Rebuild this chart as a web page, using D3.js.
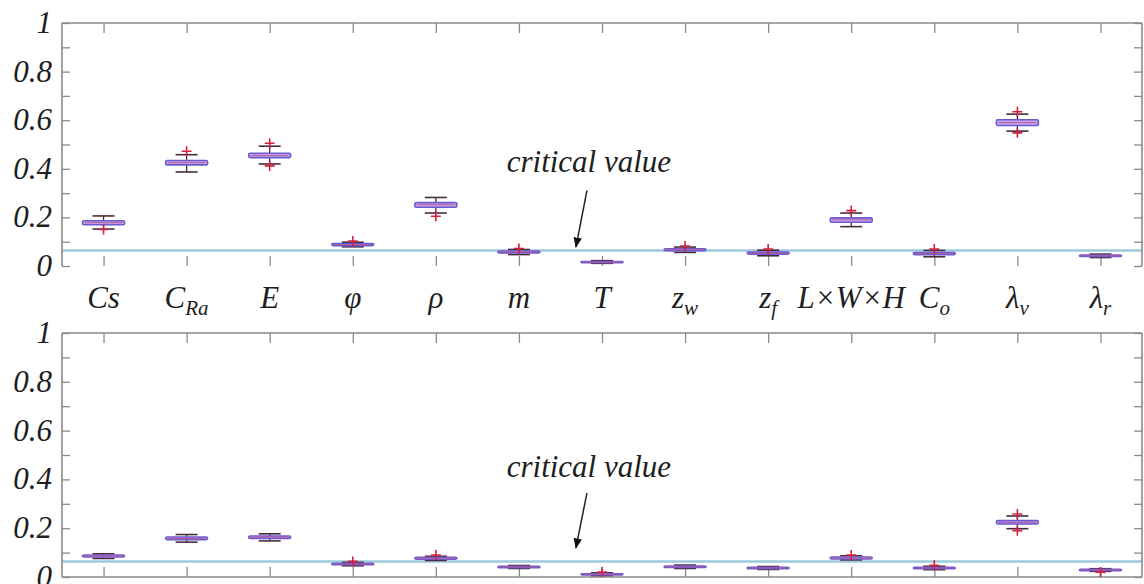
<!DOCTYPE html>
<html>
<head>
<meta charset="utf-8">
<script src="https://cdn.jsdelivr.net/npm/d3@7"></script>
<style>body{margin:0;background:#fff}</style>
</head>
<body>
<div id="chart"></div>
<script>
// categories (main glyph + subscript)
const categories = ['Cs', 'CRa', 'E', 'phi', 'rho', 'm', 'T', 'zw', 'zf', 'LWH', 'Co', 'lambdaV', 'lambdaR']
const labelMain = ['Cs', 'C', 'E', 'φ', 'ρ', 'm', 'T', 'z', 'z', 'L×W×H', 'C', 'λ', 'λ']
const labelSub = ['', 'Ra', '', '', '', '', '', 'w', 'f', '', 'o', 'v', 'r']

const yTicks = [0, 0.1, 0.2, 0.3, 0.4, 0.5, 0.6, 0.7, 0.8, 0.9, 1]
const yTickLabels = ['0', '', '0.2', '', '0.4', '', '0.6', '', '0.8', '', '1']

const criticalValue = 0.064

// top panel box statistics
const topLow = [0.152, 0.387, 0.420, 0.079, 0.218, 0.047, 0.011, 0.056, 0.042, 0.162, 0.038, 0.555, 0.035]
const topQ1 = [0.170, 0.416, 0.446, 0.084, 0.242, 0.054, 0.014, 0.063, 0.049, 0.180, 0.047, 0.578, 0.039]
const topMedian = [0.178, 0.425, 0.455, 0.088, 0.252, 0.058, 0.016, 0.067, 0.053, 0.190, 0.051, 0.590, 0.042]
const topQ3 = [0.186, 0.434, 0.464, 0.092, 0.261, 0.062, 0.018, 0.071, 0.057, 0.198, 0.055, 0.602, 0.045]
const topHigh = [0.206, 0.458, 0.493, 0.098, 0.282, 0.068, 0.022, 0.078, 0.065, 0.218, 0.064, 0.625, 0.049]
const topOutliers = [[0.150], [0.472], [0.505, 0.412], [0.103], [0.205], [0.072], [], [0.082], [0.070], [0.228], [0.070], [0.635, 0.548], []]

// bottom panel box statistics
const botLow = [0.076, 0.143, 0.148, 0.046, 0.068, 0.035, 0.006, 0.035, 0.031, 0.070, 0.030, 0.198, 0.023]
const botQ1 = [0.082, 0.153, 0.158, 0.050, 0.073, 0.038, 0.009, 0.039, 0.034, 0.074, 0.034, 0.217, 0.026]
const botMedian = [0.086, 0.158, 0.163, 0.053, 0.077, 0.041, 0.011, 0.042, 0.037, 0.078, 0.037, 0.224, 0.029]
const botQ3 = [0.090, 0.164, 0.168, 0.056, 0.081, 0.044, 0.013, 0.045, 0.040, 0.082, 0.040, 0.231, 0.032]
const botHigh = [0.095, 0.174, 0.177, 0.060, 0.085, 0.047, 0.017, 0.049, 0.043, 0.087, 0.044, 0.250, 0.034]
const botOutliers = [[], [], [], [0.064], [0.090], [], [0.020], [], [], [0.090], [0.048], [0.258, 0.190], [0.020]]

let width = 1144, height = 584
let left = 62, right = 1142

const fontFamily = 'Liberation Serif'

let svg = d3.select('#chart')
  .append('svg')
  .attr('width', width)
  .attr('height', height)

svg.append('rect').attr('width', width).attr('height', height).attr('fill', '#fff')

let x = d3.scalePoint()
  .domain(categories)
  .range([left, right])
  .padding(0.5)

const axisColor = '#8a8a8a'

function addText (parent, size) {
  return parent.append('text')
    .attr('font-family', fontFamily)
    .attr('font-style', 'italic')
    .attr('font-size', size)
    .attr('fill', '#1e1e1e')
}

function buildRows (low, q1, med, q3, high, outl) {
  return categories.map((c, i) => ({
    key: c, low: low[i], q1: q1[i], med: med[i], q3: q3[i], high: high[i], out: outl[i]
  }))
}

function drawPanel (top, bottom, rows, opts) {
  let y = d3.scaleLinear().domain([0, 1]).range([bottom, top])
  let g = svg.append('g')

  // critical value line
  g.append('line')
    .attr('x1', left).attr('x2', right)
    .attr('y1', y(criticalValue)).attr('y2', y(criticalValue))
    .attr('stroke', '#9ccadb')
    .attr('stroke-width', 2.5)

  // frame
  let frame = g.append('g')
    .attr('stroke', axisColor)
    .attr('stroke-width', 1.6)
    .attr('fill', 'none')
  frame.append('line').attr('x1', left).attr('x2', right).attr('y1', top).attr('y2', top)
  frame.append('line').attr('x1', left).attr('x2', left).attr('y1', top).attr('y2', bottom)
  frame.append('line').attr('x1', right).attr('x2', right).attr('y1', top).attr('y2', bottom)
  if (opts.bottomLine) {
    frame.append('line').attr('x1', left).attr('x2', right).attr('y1', bottom).attr('y2', bottom)
  }

  // y axis labels, placed by the scale
  yTicks.forEach((v, i) => {
    if (yTickLabels[i] === '') return
    addText(g, 31)
      .attr('x', left - 10)
      .attr('y', y(v) + 10)
      .attr('text-anchor', 'end')
      .text(yTickLabels[i])
  })

  // y ticks (pointing inward) on both sides
  let yl = g.append('g').attr('transform', `translate(${left},0)`)
    .call(d3.axisLeft(y).tickValues(yTicks).tickSize(-8).tickFormat(''))
  let yr = g.append('g').attr('transform', `translate(${right},0)`)
    .call(d3.axisRight(y).tickValues(yTicks).tickSize(-8).tickFormat(''))

  // x ticks top and bottom
  let xt = g.append('g').attr('transform', `translate(0,${top})`)
    .call(d3.axisTop(x).tickSize(-10).tickFormat(''))
  let xb = g.append('g').attr('transform', `translate(0,${bottom})`)
    .call(d3.axisBottom(x).tickSize(-10).tickFormat(''))

  ;[yl, yr, xt, xb].forEach(a => {
    a.select('.domain').remove()
    a.selectAll('.tick text').remove()
    a.selectAll('.tick line').attr('stroke', axisColor).attr('stroke-width', 1.3)
  })

  // category labels under the panel
  if (opts.labels) {
    categories.forEach((c, i) => {
      let t = addText(g, 31)
        .attr('x', x(c))
        .attr('y', bottom + 42)
        .attr('text-anchor', 'middle')
      t.append('tspan').text(labelMain[i])
      if (labelSub[i] !== '') {
        t.append('tspan').attr('dy', 7).attr('font-size', 21).text(labelSub[i])
      }
    })
  }

  // annotation
  addText(g, 31)
    .attr('x', x('m') + 70)
    .attr('y', y(opts.textV))
    .attr('text-anchor', 'middle')
    .text('critical value')

  g.append('line')
    .attr('x1', x('m') + 68).attr('y1', y(opts.arrowFrom))
    .attr('x2', x('m') + 57).attr('y2', y(opts.arrowTo))
    .attr('stroke', '#222')
    .attr('stroke-width', 1.5)
    .attr('marker-end', 'url(#arrow)')

  // boxes
  let half = 21, cap = 11
  let boxes = g.selectAll('.box')
    .data(rows)
    .enter().append('g').attr('class', 'box')

  boxes.append('line')
    .attr('x1', d => x(d.key)).attr('x2', d => x(d.key))
    .attr('y1', d => y(d.low)).attr('y2', d => y(d.high))
    .attr('stroke', '#4a2a3e').attr('stroke-width', 1.3)
  boxes.append('line')
    .attr('x1', d => x(d.key) - cap).attr('x2', d => x(d.key) + cap)
    .attr('y1', d => y(d.low)).attr('y2', d => y(d.low))
    .attr('stroke', '#4a2a3e').attr('stroke-width', 1.6)
  boxes.append('line')
    .attr('x1', d => x(d.key) - cap).attr('x2', d => x(d.key) + cap)
    .attr('y1', d => y(d.high)).attr('y2', d => y(d.high))
    .attr('stroke', '#4a2a3e').attr('stroke-width', 1.6)

  boxes.append('rect')
    .attr('x', d => x(d.key) - half)
    .attr('width', half * 2)
    .attr('y', d => y(d.q3))
    .attr('height', d => Math.max(y(d.q1) - y(d.q3), 1))
    .attr('rx', 1.5)
    .attr('fill', '#c9aaee')
    .attr('stroke', '#6a5ad0')
    .attr('stroke-width', 1.6)

  boxes.append('line')
    .attr('x1', d => x(d.key) - half + 2).attr('x2', d => x(d.key) + half - 2)
    .attr('y1', d => y(d.med)).attr('y2', d => y(d.med))
    .attr('stroke', '#b85a9a').attr('stroke-width', 1)

  boxes.each(function (d) {
    d3.select(this).selectAll('.out')
      .data(d.out)
      .enter().append('path')
      .attr('class', 'out')
      .attr('d', v => `M${x(d.key) - 5},${y(v)}h10M${x(d.key)},${y(v) - 5}v10`)
      .attr('stroke', '#d8203a')
      .attr('stroke-width', 1.6)
  })
}

svg.append('defs').append('marker')
  .attr('id', 'arrow')
  .attr('viewBox', '0 0 10 10')
  .attr('refX', 9).attr('refY', 5)
  .attr('markerWidth', 7).attr('markerHeight', 7)
  .attr('orient', 'auto')
  .append('path')
  .attr('d', 'M0,1L10,5L0,9Z')
  .attr('fill', '#111')

drawPanel(23, 266, buildRows(topLow, topQ1, topMedian, topQ3, topHigh, topOutliers),
  { labels: true, bottomLine: false, textV: 0.385, arrowFrom: 0.31, arrowTo: 0.078 })
drawPanel(333, 577, buildRows(botLow, botQ1, botMedian, botQ3, botHigh, botOutliers),
  { labels: false, bottomLine: true, textV: 0.41, arrowFrom: 0.344, arrowTo: 0.119 })
</script>
</body>
</html>
